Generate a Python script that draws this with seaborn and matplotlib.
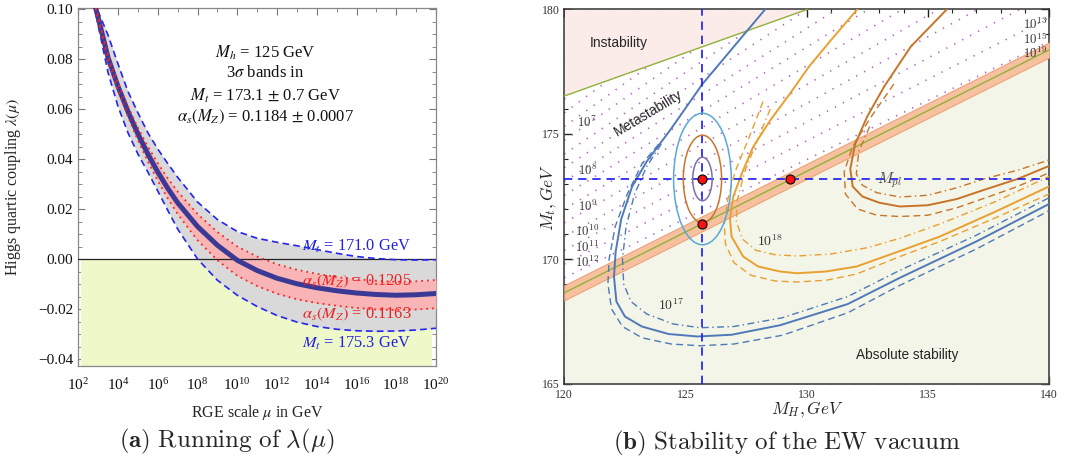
import numpy as np
import matplotlib
matplotlib.use("Agg")
import matplotlib.pyplot as plt
import seaborn as sns
from matplotlib.patches import Ellipse
from matplotlib.ticker import FixedLocator, FuncFormatter, MultipleLocator, LogFormatterMathtext, NullFormatter

# ---------------- data: panel (a) ----------------
log_mu = [2.8, 3.0, 3.5, 4.0, 4.5, 5.0, 5.5, 6.0, 6.5, 7.0, 8.0, 9.0, 10.0,
          11.0, 12.0, 13.0, 14.0, 15.0, 16.0, 17.0, 18.0, 19.0, 20.0]
lam_central = [0.1025, 0.0965, 0.0805, 0.0690, 0.0590, 0.0500, 0.0420, 0.0348, 0.0283, 0.0225,
               0.0130, 0.0055, -0.0005, -0.0046, -0.0077, -0.0099, -0.0115, -0.0127, -0.0136,
               -0.0142, -0.0145, -0.0143, -0.0138]
lam_mt_1710 = [0.1035, 0.0990, 0.0895, 0.0780, 0.0670, 0.0585, 0.0505, 0.0440, 0.0382, 0.0327,
               0.0228, 0.0158, 0.0110, 0.0083, 0.0067, 0.0053, 0.0038, 0.0023, 0.0010,
               0.0002, -0.0003, -0.0004, -0.0003]
lam_mt_1753 = [0.1015, 0.0935, 0.0745, 0.0610, 0.0505, 0.0420, 0.0348, 0.0272, 0.0195, 0.0120,
               0.0000, -0.0085, -0.0145, -0.0190, -0.0226, -0.0252, -0.0270, -0.0281, -0.0287,
               -0.0289, -0.0288, -0.0284, -0.0277]
lam_as_1205 = [0.1028, 0.0970, 0.0815, 0.0705, 0.0610, 0.0525, 0.0450, 0.0383, 0.0323, 0.0270,
               0.0180, 0.0108, 0.0050, 0.0010, -0.0021, -0.0043, -0.0059, -0.0072, -0.0081,
               -0.0087, -0.0091, -0.0089, -0.0084]
lam_as_1163 = [0.1022, 0.0960, 0.0795, 0.0675, 0.0570, 0.0475, 0.0390, 0.0313, 0.0243, 0.0180,
               0.0075, -0.0005, -0.0067, -0.0108, -0.0139, -0.0161, -0.0176, -0.0187, -0.0196,
               -0.0202, -0.0204, -0.0202, -0.0197]
a_info_lines = [r"$M_h$ = 125 GeV", r"3$\sigma$ bands in",
                r"$M_t$ = 173.1 $\pm$ 0.7 GeV", r"$\alpha_s(M_Z)$ = 0.1184 $\pm$ 0.0007"]
a_curve_labels = [r"$M_t$ = 171.0 GeV", r"$\alpha_s(M_Z)$ = 0.1205",
                  r"$\alpha_s(M_Z)$ = 0.1163", r"$M_t$ = 175.3 GeV"]
a_xtick_exp = [2, 4, 6, 8, 10, 12, 14, 16, 18, 20]
a_yticks = [-0.04, -0.02, 0.00, 0.02, 0.04, 0.06, 0.08, 0.10]

# ---------------- data: panel (b) ----------------
instab_mh = [120.0, 130.07]
instab_mt = [176.52, 180.0]
stab_mh = [120.0, 140.0]
stab_mt = [168.65, 178.36]
stab_halfwidth = 0.3
meta_left = [169.25, 169.8, 170.35, 170.9, 171.45, 172.0, 172.55, 173.1, 173.65, 174.2,
             174.75, 175.3, 175.85, 176.4]
meta_right = [178.7, 179.65, 180.6, 181.55, 182.5, 183.45, 184.4, 185.35, 186.3, 187.25,
              188.2, 189.15, 190.1, 191.05]

blue_solid_mh = [128.3, 127.0, 125.7, 124.4, 123.4, 122.8, 122.35, 122.12, 122.05, 122.15, 122.5,
                 123.2, 124.3, 125.5, 126.9, 128.9, 131.7, 133.85, 137.0, 140.0]
blue_solid_mt = [180.0, 178.5, 177.0, 175.2, 173.9, 172.9, 171.6, 170.3, 169.3, 168.3, 167.7,
                 167.3, 167.0, 166.9, 166.97, 167.35, 168.2, 169.25, 170.7, 172.2]
blue_dash_mh = [123.9, 123.2, 122.6, 122.1, 121.85, 121.8, 121.95, 122.4, 123.2, 124.4, 125.6,
                127.0, 129.0, 131.7, 133.85, 137.0, 140.0]
blue_dash_mt = [174.6, 173.8, 172.6, 171.3, 170.0, 169.0, 168.0, 167.3, 166.85, 166.6, 166.53,
                166.6, 166.95, 167.85, 168.95, 170.4, 171.93]
blue_dot_mh = [124.0, 123.4, 122.9, 122.55, 122.4, 122.45, 122.75, 123.4, 124.5, 125.6, 127.0,
               129.0, 131.7, 133.85, 137.0, 140.0]
blue_dot_mt = [174.6, 173.7, 172.6, 171.3, 170.0, 169.0, 168.3, 167.8, 167.4, 167.25, 167.3,
               167.65, 168.5, 169.55, 170.95, 172.45]

orng_solid_mh = [132.1, 131.0, 130.1, 129.3, 128.5, 127.8, 127.38, 126.97, 126.84, 126.9, 127.38,
                 128.0, 128.9, 129.6, 130.8, 132.06, 133.85, 135.5, 137.8, 140.0]
orng_solid_mt = [180.0, 178.75, 177.7, 176.6, 175.55, 174.5, 173.55, 172.5, 171.6, 170.9, 170.1,
                 169.7, 169.5, 169.43, 169.5, 169.7, 170.32, 170.9, 171.9, 172.9]
orng_dash_mh = [128.2, 127.6, 127.05, 126.75, 126.6, 126.65, 127.0, 127.7, 128.7, 129.6, 130.8,
                132.06, 133.85, 135.5, 137.8, 140.0]
orng_dash_mt = [176.3, 174.8, 173.5, 172.4, 171.4, 170.6, 169.85, 169.35, 169.12, 169.08, 169.15,
                169.4, 170.1, 170.7, 171.65, 172.6]
orng_dot_mh = [128.5, 127.9, 127.45, 127.15, 127.1, 127.35, 127.9, 128.7, 129.6, 131.0, 132.5,
               133.85, 135.5, 137.8, 140.0]
orng_dot_mt = [176.0, 174.6, 173.5, 172.4, 171.5, 170.8, 170.35, 170.17, 170.12, 170.2, 170.45,
               170.83, 171.4, 172.3, 173.3]

dorg_solid_mh = [135.8, 134.3, 133.2, 132.5, 132.0, 131.8, 131.9, 132.3, 133.0, 133.85, 135.0,
                 136.2, 137.3, 138.7, 140.0]
dorg_solid_mt = [180.0, 178.5, 176.9, 175.7, 174.6, 173.6, 172.9, 172.5, 172.25, 172.1, 172.15,
                 172.4, 172.76, 173.2, 173.72]
dorg_dash_mh = [133.6, 132.6, 131.9, 131.55, 131.6, 132.1, 132.9, 133.85, 135.0, 136.2, 137.3,
                138.7, 140.0]
dorg_dash_mt = [177.0, 175.6, 174.5, 173.5, 172.6, 172.0, 171.75, 171.7, 171.75, 172.05, 172.42,
                172.9, 173.45]
dorg_dot_mh = [132.6, 132.15, 132.05, 132.3, 132.9, 133.85, 135.0, 136.2, 137.3, 138.7, 140.0]
dorg_dot_mt = [175.3, 174.3, 173.4, 172.95, 172.65, 172.48, 172.55, 172.85, 173.2, 173.55, 173.96]

mh_meas = 125.7
mt_meas = 173.2
ell_half_w = [0.40, 0.79, 1.19]
ell_half_h = [0.87, 1.75, 2.63]
pts_mh = [125.7, 125.7, 129.3]
pts_mt = [173.2, 171.42, 173.2]
scale_labels_left = [r"$10^{7}$", r"$10^{8}$", r"$10^{9}$", r"$10^{10}$", r"$10^{11}$", r"$10^{12}$"]
scale_labels_left_mt = [175.45, 173.56, 172.1, 171.1, 170.45, 169.85]
scale_labels_right = [r"$10^{13}$", r"$10^{15}$", r"$10^{19}$"]
scale_labels_right_mt = [179.38, 178.8, 178.24]

# ---------------- style ----------------
sns.set_theme(style="ticks")
plt.rcParams["font.family"] = ["Liberation Serif", "DejaVu Serif"]
plt.rcParams["mathtext.fontset"] = "stix"

W, H = 1077, 463
fig = plt.figure(figsize=(W / 100, H / 100), dpi=100)
fig.patch.set_facecolor("white")


def box(l, t, r, b):
    return [l / W, 1 - b / H, (r - l) / W, (b - t) / H]


def draw_line(ax, x, y, color, lw, dashes=None, z=4):
    sns.lineplot(x=x, y=y, sort=False, estimator=None, color=color, lw=lw, ax=ax, zorder=z)
    ln = ax.lines[-1]
    if dashes is not None:
        ln.set_dashes(dashes)
    return ln


# ================= panel (a) =================
ax1 = fig.add_axes(box(78.3, 8.3, 436, 366))
ax1.set_xscale("log")
ax1.set_xlim(1e2, 1e20)
ax1.set_ylim(-0.0428, 0.1003)
mu = [10.0 ** v for v in log_mu]

ax1.fill_between([10 ** 2.14, 10 ** 19.8], [-0.0428, -0.0428], [0, 0], color="#eff8c9", lw=0, zorder=1)
ax1.fill_between(mu, lam_mt_1753, lam_mt_1710, color="#d9d9d9", lw=0, zorder=2)
ax1.fill_between(mu, lam_as_1163, lam_as_1205, color="#f9b5b5", lw=0, zorder=3)
ax1.axhline(0, color="#222222", lw=0.9, zorder=3.5)
draw_line(ax1, mu, lam_mt_1710, "#2424f0", 1.2, (4, 2.5), z=4)
draw_line(ax1, mu, lam_mt_1753, "#2424f0", 1.2, (4, 2.5), z=4)
draw_line(ax1, mu, lam_central, "#3a3a96", 3.6, None, z=4.5)
draw_line(ax1, mu, lam_as_1205, "#ff2222", 1.3, (1, 2.2), z=5)
draw_line(ax1, mu, lam_as_1163, "#ff2222", 1.3, (1, 2.2), z=5)

for txt, y in zip(a_info_lines, [0.0825, 0.0745, 0.0653, 0.0569]):
    ax1.text(10 ** 11.4, y, txt, ha="center", va="center", fontsize=12, color="#111111", zorder=6)
for txt, y, c in zip(a_curve_labels, [0.0050, -0.0090, -0.0220, -0.0339],
                     ["#2020e0", "#ee2020", "#ee2020", "#2020e0"]):
    ax1.text(10 ** 16.0, y, txt, ha="center", va="center", fontsize=11.8, color=c, zorder=6)

ax1.xaxis.set_major_locator(FixedLocator([10.0 ** e for e in a_xtick_exp]))
ax1.xaxis.set_minor_locator(FixedLocator([10.0 ** e for e in range(3, 20, 2)]))
ax1.xaxis.set_major_formatter(LogFormatterMathtext())
ax1.xaxis.set_minor_formatter(NullFormatter())
ax1.yaxis.set_major_locator(FixedLocator(a_yticks))
ax1.yaxis.set_minor_locator(MultipleLocator(0.005))
ax1.yaxis.set_major_formatter(FuncFormatter(lambda v, p: f"{v:.2f}".replace("-", "\u2212")))
ax1.tick_params(which="both", direction="in", top=True, right=True, colors="#777777",
                labelcolor="#111111", labelsize=11)
ax1.tick_params(axis="x", which="major", pad=8)
ax1.tick_params(which="major", length=5, width=0.8)
ax1.tick_params(which="minor", length=3, width=0.6)
for s in ax1.spines.values():
    s.set_color("#888888")
    s.set_linewidth(0.9)
ax1.set_xlabel("")
ax1.set_ylabel("")
fig.text(257 / W, 1 - 412 / H, r"RGE scale $\mu$ in GeV", ha="center", va="center", fontsize=11.5)
fig.text(13 / W, 1 - 187 / H, r"Higgs quartic coupling $\lambda(\mu)$", ha="center", va="center",
         rotation=90, fontsize=11.5)

# ================= panel (b) =================
ax2 = fig.add_axes(box(564.3, 9, 1049, 384))
ax2.set_xlim(120, 140)
ax2.set_ylim(165, 180)

for yl, yr in zip(meta_left, meta_right):
    draw_line(ax2, [120.0, 140.0], [yl, yr], "#b561c6", 1.2, (0.8, 4.6), z=1)

ax2.fill_between(instab_mh, instab_mt, [180.0, 180.0], color="#fbecea", lw=0, zorder=2)
ax2.fill_between(stab_mh, [165.0, 165.0], [v - stab_halfwidth for v in stab_mt],
                 color="#f3f5e8", lw=0, zorder=2)
ax2.fill_between(stab_mh, [v - stab_halfwidth for v in stab_mt], [v + stab_halfwidth for v in stab_mt],
                 color="#f7c19f", edgecolor="#eba47a", lw=0.8, zorder=3)
draw_line(ax2, instab_mh, instab_mt, "#8fb23a", 1.0, None, z=3.5)
draw_line(ax2, stab_mh, stab_mt, "#8fb23a", 1.0, None, z=3.5)

blue_c, orng_c, dorg_c = "#4f79b8", "#e9a031", "#c77429"
dash_s = (5, 3)
dot_s = (5, 2.5, 1, 2.5)
draw_line(ax2, blue_solid_mh, blue_solid_mt, blue_c, 1.4)
draw_line(ax2, blue_dash_mh, blue_dash_mt, blue_c, 1.0, dash_s)
draw_line(ax2, blue_dot_mh, blue_dot_mt, blue_c, 1.0, dot_s)
draw_line(ax2, orng_solid_mh, orng_solid_mt, orng_c, 1.4)
draw_line(ax2, orng_dash_mh, orng_dash_mt, orng_c, 1.0, dash_s)
draw_line(ax2, orng_dot_mh, orng_dot_mt, orng_c, 1.0, dot_s)
draw_line(ax2, dorg_solid_mh, dorg_solid_mt, dorg_c, 1.4)
draw_line(ax2, dorg_dash_mh, dorg_dash_mt, dorg_c, 1.0, dash_s)
draw_line(ax2, dorg_dot_mh, dorg_dot_mt, dorg_c, 1.0, dot_s)

ax2.axvline(mh_meas, color="#1a1af0", lw=1.2, dashes=(5, 3.5), zorder=5)
ax2.axhline(mt_meas, color="#1a1af0", lw=1.2, dashes=(5, 3.5), zorder=5)

for hw, hh, c in zip(ell_half_w, ell_half_h, ["#7d6db3", "#c7772d", "#5aa8d6"]):
    ax2.add_patch(Ellipse((mh_meas, mt_meas), 2 * hw, 2 * hh, fill=False, edgecolor=c, lw=1.1, zorder=5.5))

sns.scatterplot(x=pts_mh, y=pts_mt, color="#ff1010", edgecolor="#111111", s=42, linewidth=0.9,
                ax=ax2, zorder=6)

sans = ["Liberation Sans", "DejaVu Sans"]
ax2.text(122.23, 178.65, "Instability", ha="center", va="center", fontsize=10, family=sans, zorder=7)
ax2.text(123.45, 175.85, "Metastability", ha="center", va="center", fontsize=10, family=sans,
         rotation=31, rotation_mode="anchor", zorder=7)
ax2.text(134.13, 166.16, "Absolute stability", ha="center", va="center", fontsize=9.8, family=sans, zorder=7)
for txt, y in zip(scale_labels_left, scale_labels_left_mt):
    ax2.text(120.95, y, txt, ha="center", va="center", fontsize=9.3, color="#333333",
             math_fontfamily="cm", zorder=7)
for txt, y in zip(scale_labels_right, scale_labels_right_mt):
    ax2.text(139.42, y, txt, ha="center", va="center", fontsize=9.3, color="#333333",
             math_fontfamily="cm", zorder=7)
ax2.text(124.42, 168.17, r"$10^{17}$", ha="center", va="center", fontsize=10, color="#333333",
         math_fontfamily="cm", zorder=7)
ax2.text(128.48, 170.7, r"$10^{18}$", ha="center", va="center", fontsize=10, color="#333333",
         math_fontfamily="cm", zorder=7)
ax2.text(133.4, 173.16, r"$M_{pl}$", ha="center", va="center", fontsize=11, color="#444444",
         math_fontfamily="cm", zorder=7)

ax2.xaxis.set_major_locator(MultipleLocator(5))
ax2.xaxis.set_minor_locator(MultipleLocator(1))
ax2.yaxis.set_major_locator(MultipleLocator(5))
ax2.yaxis.set_minor_locator(MultipleLocator(1))
ax2.tick_params(which="both", direction="in", top=True, right=True, colors="#222222",
                labelcolor="#333333", labelsize=8.5)
ax2.tick_params(which="major", length=6, width=1.0)
ax2.tick_params(which="minor", length=3, width=0.8)
for s in ax2.spines.values():
    s.set_color("#333333")
    s.set_linewidth(1.1)
ax2.set_xlabel("")
ax2.set_ylabel("")
fig.text(807 / W, 1 - 410 / H, r"$M_H, GeV$", ha="center", va="center", fontsize=12.5, math_fontfamily="cm")
fig.text(549 / W, 1 - 197 / H, r"$M_t, GeV$", ha="center", va="center", fontsize=12.5,
         rotation=90, math_fontfamily="cm")

# ---------------- captions ----------------
fig.text(227 / W, 1 - 441 / H, r"$\mathbf{(a)}\ \mathrm{Running\ of}\ \lambda(\mu)$", ha="center",
         va="center", fontsize=18, math_fontfamily="cm")
fig.text(787 / W, 1 - 443 / H, r"$\mathbf{(b)}\ \mathrm{Stability\ of\ the\ EW\ vacuum}$", ha="center",
         va="center", fontsize=18, math_fontfamily="cm")

fig.savefig("out.png", dpi=100, facecolor="white")
